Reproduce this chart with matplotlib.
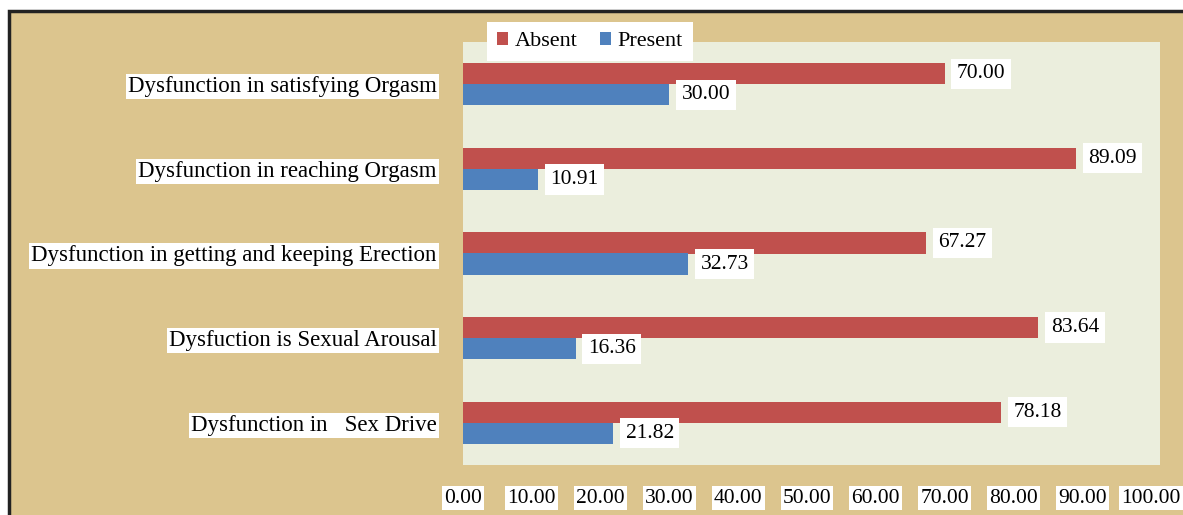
import matplotlib.pyplot as plt
from matplotlib.patches import Rectangle
import numpy as np

# data (bottom to top)
categories = ["Dysfunction in   Sex Drive",
              "Dysfuction is Sexual Arousal",
              "Dysfunction in getting and keeping Erection",
              "Dysfunction in reaching Orgasm",
              "Dysfunction in satisfying Orgasm"]
absent  = [78.18, 83.64, 67.27, 89.09, 70.00]
present = [21.82, 16.36, 32.73, 10.91, 30.00]
xticks  = [0, 10, 20, 30, 40, 50, 60, 70, 80, 90, 100]

red  = '#c0504d'
blue = '#4f81bd'
font = 'Liberation Serif'
fs = 15.5

W, H = 1183, 515
fig = plt.figure(figsize=(W / 100, H / 100), dpi=100, facecolor='white')

# papyrus-coloured frame (runs off the bottom and right edges)
fig.patches.append(Rectangle((9 / W, -0.05), 1, 1.05 - 11 / H, transform=fig.transFigure,
                             facecolor='#dcc58e', edgecolor='#222222', linewidth=2.5, zorder=-10))

ax = fig.add_axes([463 / W, 50 / H, 697 / W, 423 / H])
ax.set_facecolor('#ebeedd')
for s in ax.spines.values():
    s.set_visible(False)

y = np.arange(len(categories))
h = 0.25
ax.barh(y + h / 2, absent, height=h, color=red, label='Absent')
ax.barh(y - h / 2, present, height=h, color=blue, label='Present')

box = dict(facecolor='white', edgecolor='none', pad=4)
for yi, a, p in zip(y, absent, present):
    ax.text(a + 1.8, yi + h / 2, f"{a:.2f}", va='center', ha='left', family=font, fontsize=fs, bbox=box)
    ax.text(p + 1.8, yi - h / 2, f"{p:.2f}", va='center', ha='left', family=font, fontsize=fs, bbox=box)

ax.set_xlim(0, 101.3)
ax.set_ylim(-0.5, 4.5)
ax.set_xticks(xticks)
ax.set_xticklabels([f"{v:.2f}" for v in xticks], family=font, fontsize=fs)
ax.set_yticks(y)
ax.set_yticklabels(categories, family=font, fontsize=16.5)
ax.tick_params(axis='x', length=0, pad=17)
ax.tick_params(axis='y', length=0, pad=19)
for lbl in ax.get_xticklabels() + ax.get_yticklabels():
    lbl.set_bbox(dict(facecolor='white', edgecolor='none', pad=1.5))

leg = ax.legend(loc='upper left', bbox_to_anchor=(24 / 697, 1 + 20 / 423), ncol=2,
                prop={'family': font, 'size': 16}, frameon=True, fancybox=False,
                handlelength=0.5, handleheight=0.5, handletextpad=0.3, columnspacing=1.0,
                borderpad=0.45, borderaxespad=0)
leg.get_frame().set_edgecolor('none')
leg.get_frame().set_facecolor('white')
leg.get_frame().set_alpha(1)

fig.savefig('out.png', dpi=100, facecolor=fig.get_facecolor())
